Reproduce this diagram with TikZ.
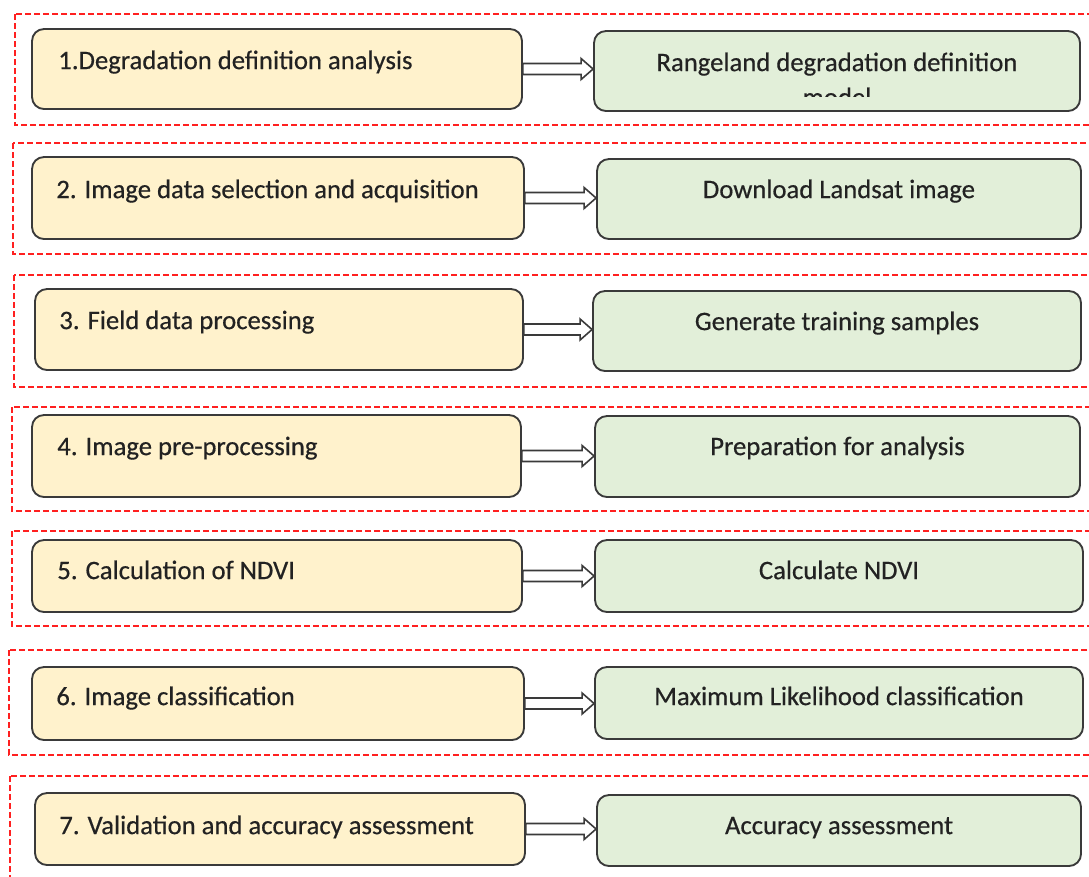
\documentclass[tikz,border=0pt]{standalone}
\usepackage{fontspec}
\setmainfont{Carlito}
\newfontfamily\boxfont[FakeBold=0.5]{Carlito}
\usetikzlibrary{fit}
\definecolor{boxY}{HTML}{FFF2CC}
\definecolor{boxG}{HTML}{E2EFD9}
\definecolor{edgegray}{HTML}{3A3A3A}
\definecolor{frameRed}{HTML}{FF2020}
\definecolor{txtgray}{HTML}{222222}
\newcommand{\flowarrow}[2]{%
  \coordinate (#1end) at (#1.east -| #2.west);
  \draw[barrow] ([shift={(0,-5.5)}]#1.east) -- ([shift={(-12,-5.5)}]#1end)
    -- ([shift={(-12,-10.5)}]#1end) -- (#1end) -- ([shift={(-12,10.5)}]#1end)
    -- ([shift={(-12,5.5)}]#1end) -- ([shift={(0,5.5)}]#1.east) -- cycle;}
\begin{document}
\begin{tikzpicture}[x=0.75pt,y=-0.75pt,
  ybox/.style={draw=edgegray, line width=1.4pt, fill=boxY, rounded corners=9pt, inner sep=0pt},
  gbox/.style={draw=edgegray, line width=1.4pt, fill=boxG, rounded corners=9pt, inner sep=0pt},
  frame/.style={draw=frameRed, line width=1.4pt, dash pattern=on 4.5pt off 2.25pt},
  ytext/.style={anchor=base west, font=\boxfont\fontsize{20}{24}\selectfont, text=txtgray, inner sep=0pt},
  gtext/.style={anchor=base, font=\boxfont\fontsize{20}{24}\selectfont, text=txtgray, inner sep=0pt},
  barrow/.style={draw=edgegray, line width=1.2pt, fill=white, line join=miter}]
\useasboundingbox (0,0) rectangle (1089,876);
\clip (0,0) rectangle (1089,876);
\fill[white] (0,0) rectangle (1089,876);
% dashed frames
\draw[frame] (15,14) rectangle (1100,125);
\draw[frame] (13,143) rectangle (1100,254);
\draw[frame] (14,275) rectangle (1100,387);
\draw[frame] (12,407) rectangle (1100,511);
\draw[frame] (12,531) rectangle (1100,626);
\draw[frame] (9,650) rectangle (1100,755);
\draw[frame] (10,776) rectangle (1100,900);
% boxes
\node[ybox, fit={(32,29) (522,109)}] (Y1) {};
\node[gbox, fit={(594,31) (1080,111)}] (G1) {};
\node[ybox, fit={(32,157) (524,239)}] (Y2) {};
\node[gbox, fit={(597,159) (1081,239)}] (G2) {};
\node[ybox, fit={(35,289) (523,370)}] (Y3) {};
\node[gbox, fit={(593,291) (1081,371)}] (G3) {};
\node[ybox, fit={(32,415) (521,497)}] (Y4) {};
\node[gbox, fit={(595,416) (1080,497)}] (G4) {};
\node[ybox, fit={(32,540) (522,612)}] (Y5) {};
\node[gbox, fit={(595,540) (1083,612)}] (G5) {};
\node[ybox, fit={(32,667) (524,740)}] (Y6) {};
\node[gbox, fit={(595,667) (1083,739)}] (G6) {};
\node[ybox, fit={(35,793) (525,865)}] (Y7) {};
\node[gbox, fit={(597,795) (1081,866)}] (G7) {};
% texts
\node[ytext] (TY1) at ([shift={(27,41)}]Y1.north west) {1.Degradation definition analysis};
\node[gtext] (TG1) at ([shift={(0,41)}]G1.north) {Rangeland degradation definition};
\begin{scope}
  \clip (594,31) rectangle (1080,96.5);
  \node[gtext] (TG1b) at ([shift={(0,76)}]G1.north) {model};
\end{scope}
\node[ytext] (TY2) at ([shift={(25,42)}]Y2.north west) {2. Image data selection and acquisition};
\node[gtext] (TG2) at ([shift={(0,40)}]G2.north) {Download Landsat image};
\node[ytext] (TY3) at ([shift={(25,41)}]Y3.north west) {3. Field data processing};
\node[gtext] (TG3) at ([shift={(0,40)}]G3.north) {Generate training samples};
\node[ytext] (TY4) at ([shift={(26,41)}]Y4.north west) {4. Image pre-processing};
\node[gtext] (TG4) at ([shift={(0,40)}]G4.north) {Preparation for analysis};
\node[ytext] (TY5) at ([shift={(26,40)}]Y5.north west) {5. Calculation of NDVI};
\node[gtext] (TG5) at ([shift={(0,40)}]G5.north) {Calculate NDVI};
\node[ytext] (TY6) at ([shift={(25,39)}]Y6.north west) {6. Image classification};
\node[gtext] (TG6) at ([shift={(0,39)}]G6.north) {Maximum Likelihood classification};
\node[ytext] (TY7) at ([shift={(25,42)}]Y7.north west) {7. Validation and accuracy assessment};
\node[gtext] (TG7) at ([shift={(0,40)}]G7.north) {Accuracy assessment};
% arrows
\flowarrow{Y1}{G1}
\flowarrow{Y2}{G2}
\flowarrow{Y3}{G3}
\flowarrow{Y4}{G4}
\flowarrow{Y5}{G5}
\flowarrow{Y6}{G6}
\flowarrow{Y7}{G7}
\end{tikzpicture}
\end{document}
